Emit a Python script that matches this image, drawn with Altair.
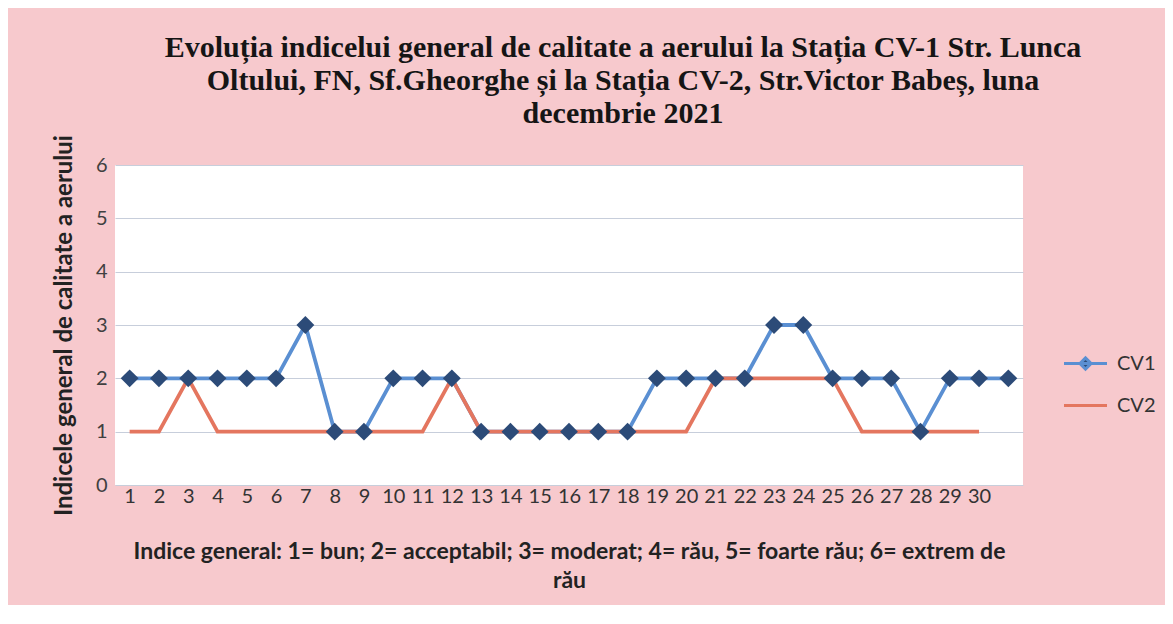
import altair as alt
import pandas as pd

# ---- data ----
days = [1, 2, 3, 4, 5, 6, 7, 8, 9, 10, 11, 12, 13, 14, 15, 16, 17, 18, 19, 20,
        21, 22, 23, 24, 25, 26, 27, 28, 29, 30, 31]
cv1 = [2, 2, 2, 2, 2, 2, 3, 1, 1, 2, 2, 2, 1, 1, 1, 1, 1, 1, 2, 2,
       2, 2, 3, 3, 2, 2, 2, 1, 2, 2, 2]
cv2 = [1, 1, 2, 1, 1, 1, 1, 1, 1, 1, 1, 2, 1, 1, 1, 1, 1, 1, 1, 1,
       2, 2, 2, 2, 2, 1, 1, 1, 1, 1]
series_names = ["CV1", "CV2"]
y_ticks = [0, 1, 2, 3, 4, 5, 6]

title_lines = [
    "Evoluția indicelui general de calitate a aerului la Stația CV-1 Str. Lunca",
    "Oltului, FN, Sf.Gheorghe și la Stația CV-2, Str.Victor Babeș, luna",
    "decembrie 2021",
]
y_title = "Indicele general  de calitate a aerului"
x_title = [
    "Indice general: 1= bun; 2= acceptabil; 3= moderat; 4= rău, 5= foarte rău; 6= extrem de",
    "rău",
]

rows = []
for d, v in zip(days, cv1):
    rows.append({"day": d, "value": v, "series": "CV1"})
for d, v in zip(days, cv2):
    rows.append({"day": d, "value": v, "series": "CV2"})
df = pd.DataFrame(rows)

BLUE = "#5a8fd2"
NAVY = "#2c4b78"
SALMON = "#e4765f"
PINK = "#f7c9cd"

LEGEND_PATHS = [
    "M-1,0L1,0M-0.26,0L0,-0.26L0.26,0L0,0.26Z",
    "M-1,0L1,0",
]

x_enc = alt.X(
    "day:O",
    scale=alt.Scale(type="point", domain=days, padding=0.5),
    axis=alt.Axis(
        title=x_title,
        labelAngle=0,
        labelExpr="datum.value == 31 ? '' : datum.label",
        labelFont="Lato",
        labelFontSize=20,
        labelColor="#333333",
        labelPadding=1,
        labelOverlap=False,
        ticks=False,
        domain=False,
        grid=False,
        titleFont="Lato",
        titleFontSize=23,
        titleFontWeight="bold",
        titleColor="#222222",
        titleLineHeight=29,
        titlePadding=34,
    ),
)
y_enc = alt.Y(
    "value:Q",
    scale=alt.Scale(domain=[0, 6]),
    axis=alt.Axis(
        title=y_title,
        values=y_ticks,
        format="d",
        labelFont="Lato",
        labelFontSize=20,
        labelColor="#404040",
        labelPadding=8,
        ticks=False,
        domain=False,
        grid=True,
        gridColor="#c7cedb",
        gridWidth=1,
        titleFont="Lato",
        titleFontSize=24,
        titleFontWeight="bold",
        titleColor="#222222",
        titlePadding=19,
    ),
)

stroke_scale = alt.Scale(domain=series_names, range=[BLUE, SALMON])

legend_props = dict(
    title=None,
    orient="none",
    legendX=947,
    legendY=175,
    padding=0,
    rowPadding=6,
    symbolSize=1850,
    symbolStrokeWidth=3,
    labelFont="Lato",
    labelFontSize=20,
    labelColor="#333333",
    labelOffset=8,
)

lines = alt.Chart(df).mark_line(strokeWidth=3.8).encode(
    x=x_enc,
    y=y_enc,
    stroke=alt.Stroke("series:N", scale=stroke_scale, legend=alt.Legend(**legend_props)),
)

markers = alt.Chart(df).transform_filter("datum.series == 'CV1'").mark_point(
    shape="diamond", filled=True, color=NAVY, size=320, opacity=1
).encode(x=x_enc, y=y_enc)

legend_layer = alt.Chart(df).transform_filter("datum.day > 100").mark_point(
    filled=True, strokeWidth=3, opacity=1
).encode(
    x=x_enc,
    y=y_enc,
    stroke=alt.Stroke("series:N", scale=stroke_scale, legend=alt.Legend(**legend_props)),
    fill=alt.Fill(
        "series:N",
        scale=alt.Scale(domain=series_names, range=[NAVY, SALMON]),
        legend=alt.Legend(**legend_props),
    ),
    shape=alt.Shape(
        "series:N",
        scale=alt.Scale(domain=series_names, range=LEGEND_PATHS),
        legend=alt.Legend(**legend_props),
    ),
)

chart = (
    alt.layer(lines, markers, legend_layer)
    .properties(
        width=908,
        height=320,
        title=alt.TitleParams(
            text=title_lines,
            font="Liberation Serif",
            fontSize=30,
            fontWeight="bold",
            color="#151515",
            lineHeight=33,
            anchor="middle",
            frame="group",
            dx=54,
            offset=3,
        ),
        autosize=alt.AutoSizeParams(type="none"),
        padding={"left": 107, "top": 157, "right": 142, "bottom": 120},
        background=PINK,
    )
    .configure_view(fill="white", stroke=None)
)

chart.save("out.html", embed_options={"renderer": "svg", "actions": False})
